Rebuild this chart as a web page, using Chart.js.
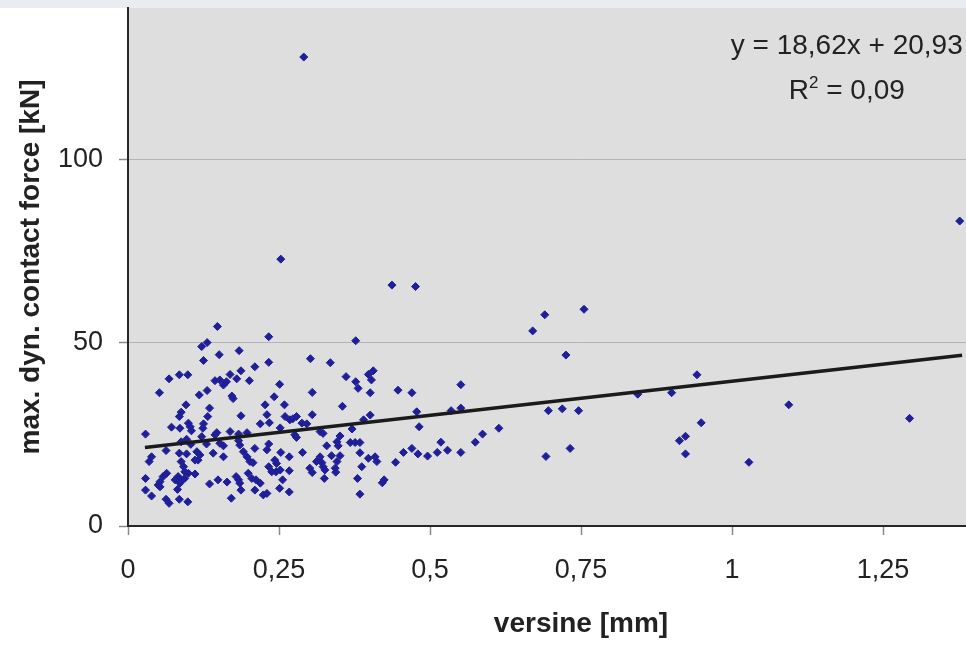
<!DOCTYPE html>
<html>
<head>
<meta charset="utf-8">
<script src="https://cdn.jsdelivr.net/npm/chart.js@4"></script>
<style>
  html, body { margin: 0; padding: 0; background: #ffffff; overflow: hidden; }
  #wrap { position: absolute; left: 0; top: 0; width: 1060px; height: 646px; }
</style>
</head>
<body>
<div id="wrap"><canvas id="forceChart" width="1060" height="646"></canvas></div>
<script>
const versine = [
  0.148, 0.233, 0.122, 0.131, 0.151, 0.184, 0.125, 0.233, 0.210, 0.187, 0.068, 0.085, 0.099, 0.169, 0.144, 0.152,
  0.158, 0.163, 0.180, 0.201, 0.052, 0.118, 0.131, 0.172, 0.174, 0.242, 0.251, 0.096, 0.135, 0.227, 0.088, 0.085,
  0.132, 0.230, 0.187, 0.100, 0.103, 0.125, 0.124, 0.072, 0.086, 0.219, 0.234, 0.029, 0.105, 0.147, 0.144, 0.169,
  0.183, 0.197, 0.252, 0.122, 0.088, 0.097, 0.104, 0.130, 0.152, 0.158, 0.183, 0.185, 0.233, 0.063, 0.039, 0.035,
  0.085, 0.097, 0.114, 0.119, 0.116, 0.111, 0.141, 0.158, 0.191, 0.197, 0.202, 0.207, 0.210, 0.230, 0.243, 0.245,
  0.088, 0.092, 0.094, 0.100, 0.111, 0.083, 0.078, 0.089, 0.086, 0.094, 0.064, 0.058, 0.053, 0.050, 0.029, 0.029,
  0.039, 0.053, 0.082, 0.063, 0.068, 0.085, 0.099, 0.135, 0.149, 0.164, 0.179, 0.183, 0.185, 0.187, 0.171, 0.199,
  0.205, 0.212, 0.219, 0.210, 0.224, 0.230, 0.238, 0.251, 0.233,
  0.437, 0.476, 0.377, 0.302, 0.335, 0.361, 0.377, 0.381, 0.398, 0.406, 0.403, 0.401, 0.447, 0.470, 0.305, 0.259,
  0.355, 0.260, 0.268, 0.279, 0.273, 0.305, 0.288, 0.296, 0.401, 0.390, 0.371, 0.478, 0.482, 0.318, 0.323, 0.276,
  0.279, 0.351, 0.346, 0.348, 0.329, 0.368, 0.376, 0.384, 0.253, 0.267, 0.289, 0.246, 0.384, 0.318, 0.312, 0.321,
  0.323, 0.326, 0.337, 0.351, 0.346, 0.343, 0.398, 0.409, 0.412, 0.387, 0.443, 0.456, 0.470, 0.480, 0.496, 0.252,
  0.267, 0.301, 0.305, 0.344, 0.325, 0.256, 0.380, 0.267, 0.421, 0.424, 0.384,
  0.253, 0.291, 1.377,
  0.670, 0.690, 0.755, 0.725, 0.551, 0.535, 0.551, 0.696, 0.719, 0.746, 0.614, 0.587, 0.575, 0.518, 0.512, 0.529,
  0.551, 0.692, 0.732,
  0.844, 0.900, 0.942, 0.949, 0.923, 0.913, 0.923, 1.028, 1.094, 1.294
];
const contactForce = [
  54.5, 51.7, 49.0, 50.1, 46.8, 47.9, 45.2, 44.7, 43.5, 42.4, 40.2, 41.3, 41.3, 41.4, 39.7, 39.9,
  38.5, 39.4, 40.2, 39.7, 36.4, 35.8, 37.0, 35.5, 34.8, 35.3, 38.7, 33.1, 32.2, 33.1, 31.1, 29.9,
  29.9, 30.4, 30.1, 28.1, 27.1, 27.9, 26.7, 27.0, 26.7, 27.9, 28.2, 25.1, 26.0, 25.5, 24.9, 25.8,
  25.1, 25.5, 26.8, 24.4, 23.0, 23.7, 22.3, 22.4, 22.6, 21.9, 23.3, 22.1, 22.4, 20.6, 18.9, 17.6,
  19.9, 19.7, 20.3, 19.4, 18.0, 18.0, 19.9, 18.9, 20.3, 18.9, 17.6, 17.3, 21.2, 20.8, 18.0, 14.8,
  17.6, 16.2, 14.8, 14.4, 14.2, 13.5, 12.6, 12.6, 11.7, 13.0, 14.4, 13.5, 12.1, 11.2, 13.0, 9.8,
  8.2, 10.7, 10.0, 7.3, 6.2, 7.3, 6.6, 11.5, 12.6, 12.0, 13.5, 12.6, 11.7, 9.8, 7.6, 14.4,
  13.0, 12.6, 11.7, 9.8, 8.5, 8.9, 14.8, 10.3, 16.2,
  65.8, 65.4, 50.6, 45.7, 44.6, 40.8, 39.4, 37.6, 41.4, 42.4, 39.9, 36.4, 37.1, 36.4, 36.5, 33.1,
  32.7, 29.9, 29.0, 29.9, 29.3, 30.4, 28.1, 27.9, 30.3, 29.0, 26.5, 31.2, 27.1, 25.8, 25.3, 24.9,
  24.2, 24.6, 23.0, 21.9, 21.9, 22.8, 22.8, 22.8, 20.1, 18.9, 20.1, 17.1, 20.0, 18.9, 17.6, 17.3,
  16.2, 15.3, 19.2, 19.2, 17.6, 15.8, 18.5, 18.9, 17.6, 16.2, 17.4, 20.1, 21.2, 19.7, 19.1, 15.3,
  15.1, 15.8, 14.6, 14.7, 13.0, 12.6, 13.0, 9.3, 11.8, 12.6, 8.7,
  72.9, 128.1, 83.3,
  53.3, 57.7, 59.2, 46.7, 38.6, 31.5, 32.2, 31.5, 32.0, 31.5, 26.7, 25.1, 22.9, 22.9, 20.1, 20.7,
  20.1, 19.0, 21.2,
  36.0, 36.4, 41.3, 28.2, 24.5, 23.3, 19.7, 17.4, 33.1, 29.4
];

// linear trendline end points (y = 18,62x + 20,93)
const trendX = [0.028, 1.381];
const trendY = [21.45, 46.65];

// axis ticks
const xTicks = [0, 0.25, 0.5, 0.75, 1, 1.25];
const xTickLabels = ['0', '0,25', '0,5', '0,75', '1', '1,25'];
const yTicks = [0, 50, 100];
const yTickLabels = ['0', '50', '100'];

const equationText = 'y = 18,62x + 20,93';
const rSquaredText = ' = 0,09';

const points = versine.map((v, i) => ({ x: v, y: contactForce[i] }));
const trendPoints = trendX.map((v, i) => ({ x: v, y: trendY[i] }));

// grey plot background and the pale strip at the very top
const plotBackground = {
  id: 'plotBackground',
  beforeDraw(chart) {
    const { ctx, chartArea } = chart;
    ctx.save();
    ctx.fillStyle = '#e9edf1';
    ctx.fillRect(0, 0, chart.width, chartArea.top);
    ctx.fillStyle = '#dedede';
    ctx.fillRect(chartArea.left, chartArea.top, chartArea.right - chartArea.left, chartArea.bottom - chartArea.top);
    ctx.restore();
  }
};

// trendline equation and R squared
const trendLabel = {
  id: 'trendLabel',
  afterDraw(chart) {
    const { ctx } = chart;
    const cx = chart.scales.x.getPixelForValue(1.19);
    const y1 = chart.scales.y.getPixelForValue(128.8);
    const y2 = y1 + 45;
    ctx.save();
    ctx.fillStyle = '#222222';
    ctx.textBaseline = 'alphabetic';
    ctx.font = '28px "Liberation Sans", Arial, sans-serif';
    ctx.textAlign = 'center';
    ctx.fillText(equationText, cx, y1);

    ctx.textAlign = 'left';
    const rW = ctx.measureText('R').width;
    const restW = ctx.measureText(rSquaredText).width;
    ctx.font = '17px "Liberation Sans", Arial, sans-serif';
    const supW = ctx.measureText('2').width;
    let x = cx - (rW + supW + restW) / 2;
    ctx.font = '28px "Liberation Sans", Arial, sans-serif';
    ctx.fillText('R', x, y2);
    x += rW;
    ctx.font = '17px "Liberation Sans", Arial, sans-serif';
    ctx.fillText('2', x, y2 - 11);
    x += supW;
    ctx.font = '28px "Liberation Sans", Arial, sans-serif';
    ctx.fillText(rSquaredText, x, y2);
    ctx.restore();
  }
};

// keep the plot area where the picture has it
function fixWidth(scale) {
  scale.width = 128;
  scale.paddingTop = 0;
  scale.paddingBottom = 0;
}
function fixHeight(scale) {
  scale.height = 120;
  scale.paddingLeft = 0;
  scale.paddingRight = 0;
}

new Chart(document.getElementById('forceChart'), {
  type: 'scatter',
  data: {
    datasets: [
      {
        type: 'line',
        label: 'trend',
        data: trendPoints,
        borderColor: '#1b1b1b',
        borderWidth: 3.5,
        pointRadius: 0,
        fill: false,
        order: 0
      },
      {
        label: 'measurements',
        data: points,
        pointStyle: 'rectRot',
        pointRadius: 4,
        pointBorderWidth: 1,
        backgroundColor: '#1f1f99',
        borderColor: '#1f1f99',
        order: 1
      }
    ]
  },
  options: {
    responsive: false,
    animation: false,
    layout: { padding: { top: 8, right: 26, left: 0, bottom: 0 } },
    plugins: {
      legend: { display: false },
      tooltip: { enabled: false }
    },
    scales: {
      x: {
        type: 'linear',
        min: 0,
        max: 1.5,
        afterFit: fixHeight,
        afterBuildTicks(scale) { scale.ticks = xTicks.map(v => ({ value: v })); },
        grid: {
          drawOnChartArea: false,
          drawTicks: true,
          tickLength: 9,
          tickColor: '#8a8a8a',
          tickWidth: 1.5
        },
        border: { color: '#262626', width: 2 },
        ticks: {
          padding: 19,
          color: '#222222',
          font: { family: '"Liberation Sans", Arial, sans-serif', size: 27 },
          callback: (value) => xTickLabels[xTicks.indexOf(value)] ?? ''
        },
        title: {
          display: true,
          text: 'versine [mm]',
          color: '#222222',
          font: { family: '"Liberation Sans", Arial, sans-serif', size: 28, weight: 'bold' },
          padding: { top: 0, bottom: 5 }
        }
      },
      y: {
        type: 'linear',
        min: 0,
        max: 141.5,
        afterFit: fixWidth,
        afterBuildTicks(scale) { scale.ticks = yTicks.map(v => ({ value: v })); },
        grid: {
          color: (c) => (c.tick && c.tick.value === 0) ? 'rgba(0,0,0,0)' : '#b4b4b4',
          lineWidth: 1,
          drawTicks: true,
          tickLength: 9,
          tickColor: '#8a8a8a',
          tickWidth: 1.5
        },
        border: { color: '#262626', width: 2 },
        ticks: {
          padding: 16,
          color: '#222222',
          font: { family: '"Liberation Sans", Arial, sans-serif', size: 27 },
          callback: (value) => yTickLabels[yTicks.indexOf(value)] ?? ''
        },
        title: {
          display: true,
          text: 'max. dyn. contact force [kN]',
          color: '#222222',
          font: { family: '"Liberation Sans", Arial, sans-serif', size: 28, weight: 'bold' },
          padding: { top: 14, bottom: 0 }
        }
      }
    }
  },
  plugins: [plotBackground, trendLabel]
});
</script>
</body>
</html>
